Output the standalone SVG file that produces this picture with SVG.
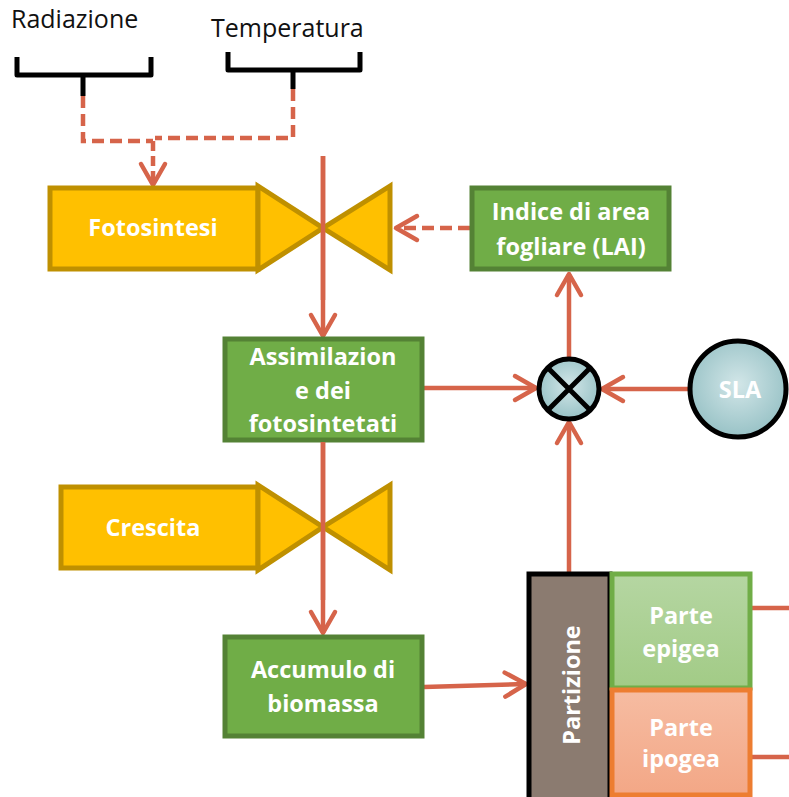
<svg xmlns="http://www.w3.org/2000/svg" width="789" height="797" viewBox="0 0 789 797">
<defs>
<style>
.lbl{font-family:"Open Sans","Liberation Sans",sans-serif;font-size:25px;fill:#111}
.t{font-family:"Open Sans","Liberation Sans",sans-serif;font-size:23.5px;font-weight:bold;fill:#fff;text-anchor:middle}
.brace{fill:none;stroke:#000;stroke-width:5;stroke-linejoin:round}
.yel{fill:#FFC000;stroke:#BF9000;stroke-width:5}
.grn{fill:#70AD47;stroke:#548235;stroke-width:5}
.c{fill:none;stroke:#D6644A;stroke-width:4.5}
.d{stroke-dasharray:12 6}
</style>
<marker id="ah" markerUnits="userSpaceOnUse" markerWidth="40" markerHeight="40" viewBox="-30 -20 40 40" refX="0" refY="0" orient="auto">
<path d="M-21,-12 L0,0 L-21,12" fill="none" stroke="#D6644A" stroke-width="4.5" stroke-linecap="round" stroke-linejoin="round"/>
</marker>
<radialGradient id="teal" cx="0.5" cy="0.45" r="0.6">
<stop offset="0" stop-color="#D2E6E8"/>
<stop offset="1" stop-color="#93BFC3"/>
</radialGradient>
<linearGradient id="lg" x1="0" y1="0" x2="0" y2="1">
<stop offset="0" stop-color="#B5D6A2"/>
<stop offset="1" stop-color="#A2CB86"/>
</linearGradient>
<linearGradient id="og" x1="0" y1="0" x2="0" y2="1">
<stop offset="0" stop-color="#F6BCA2"/>
<stop offset="1" stop-color="#F3A786"/>
</linearGradient>
</defs>

<g id="radiazione">
<text class="lbl" x="11" y="28">Radiazione</text>
<path class="brace" d="M17,57 V75 H83 M151,57 V75 H83 V96"/>
</g>
<g id="temperatura">
<text class="lbl" x="211" y="37">Temperatura</text>
<path class="brace" d="M228,52 V70 H293 M360,52 V70 H293 V89"/>
</g>

<g id="connectors">
<path class="c d" d="M83,96 V141 H153"/>
<path class="c d" d="M293,89 V138 H155"/>
<path class="c" d="M153,141 V185" marker-end="url(#ah)" stroke-dasharray="10 5"/>
<path class="c" d="M323,156 V336" marker-end="url(#ah)"/>
<path class="c d" d="M470,228 H396" marker-end="url(#ah)"/>
<path class="c" d="M424,388 H536" marker-end="url(#ah)"/>
<path class="c" d="M688,389 H602" marker-end="url(#ah)"/>
<path class="c" d="M569,358 V274" marker-end="url(#ah)"/>
<path class="c" d="M569,572 V422" marker-end="url(#ah)"/>
<path class="c" d="M323,442 V633" marker-end="url(#ah)"/>
<path class="c" d="M424,687 L526,684" marker-end="url(#ah)"/>
<path class="c" d="M752,608 H789"/>
<path class="c" d="M752,757 H789"/>
</g>

<g id="fotosintesi">
<rect class="yel" x="50" y="188" width="208" height="81"/>
<path class="yel" d="M258,186 L323,228 L258,270 Z M390,186 L323,228 L390,270 Z"/>
<text class="t" x="153" y="236">Fotosintesi</text>
</g>
<path d="M323,156 V300" stroke="#D6644A" stroke-width="4.5"/>

<g id="lai">
<rect class="grn" x="472" y="188" width="197" height="81"/>
<text class="t" x="571" y="220">Indice di area</text>
<text class="t" x="571" y="255">fogliare (LAI)</text>
</g>

<g id="assimilazione">
<rect class="grn" x="225" y="339" width="197" height="101"/>
<text class="t" x="323" y="365">Assimilazion</text>
<text class="t" x="323" y="399">e dei</text>
<text class="t" x="323" y="432">fotosintetati</text>
</g>

<g id="moltiplicatore">
<circle cx="569" cy="389" r="30" fill="url(#teal)" stroke="#000" stroke-width="5"/>
<path d="M548,368 L590,410 M590,368 L548,410" stroke="#000" stroke-width="5"/>
</g>

<g id="sla">
<circle cx="738" cy="389" r="48" fill="url(#teal)" stroke="#000" stroke-width="5"/>
<text class="t" x="740" y="398">SLA</text>
</g>

<g id="crescita">
<rect class="yel" x="61" y="487" width="197" height="81"/>
<path class="yel" d="M258,485 L323,527 L258,570 Z M390,485 L323,527 L390,570 Z"/>
<text class="t" x="153" y="536">Crescita</text>
</g>
<path d="M323,442 V600" stroke="#D6644A" stroke-width="4.5"/>

<g id="accumulo">
<rect class="grn" x="225" y="637" width="197" height="99"/>
<text class="t" x="323" y="678">Accumulo di</text>
<text class="t" x="323" y="712">biomassa</text>
</g>

<g id="partizione">
<rect x="529" y="574" width="81" height="230" fill="#8B7B70" stroke="#000" stroke-width="5"/>
<text class="t" transform="translate(580,685) rotate(-90)">Partizione</text>
</g>

<g id="epigea">
<rect x="612" y="574" width="138" height="114" fill="url(#lg)" stroke="#70AD47" stroke-width="5"/>
<text class="t" x="681" y="624">Parte</text>
<text class="t" x="681" y="657">epigea</text>
</g>

<g id="ipogea">
<rect x="612" y="690" width="138" height="105" fill="url(#og)" stroke="#ED7D31" stroke-width="5"/>
<text class="t" x="681" y="736">Parte</text>
<text class="t" x="681" y="767">ipogea</text>
</g>
</svg>
